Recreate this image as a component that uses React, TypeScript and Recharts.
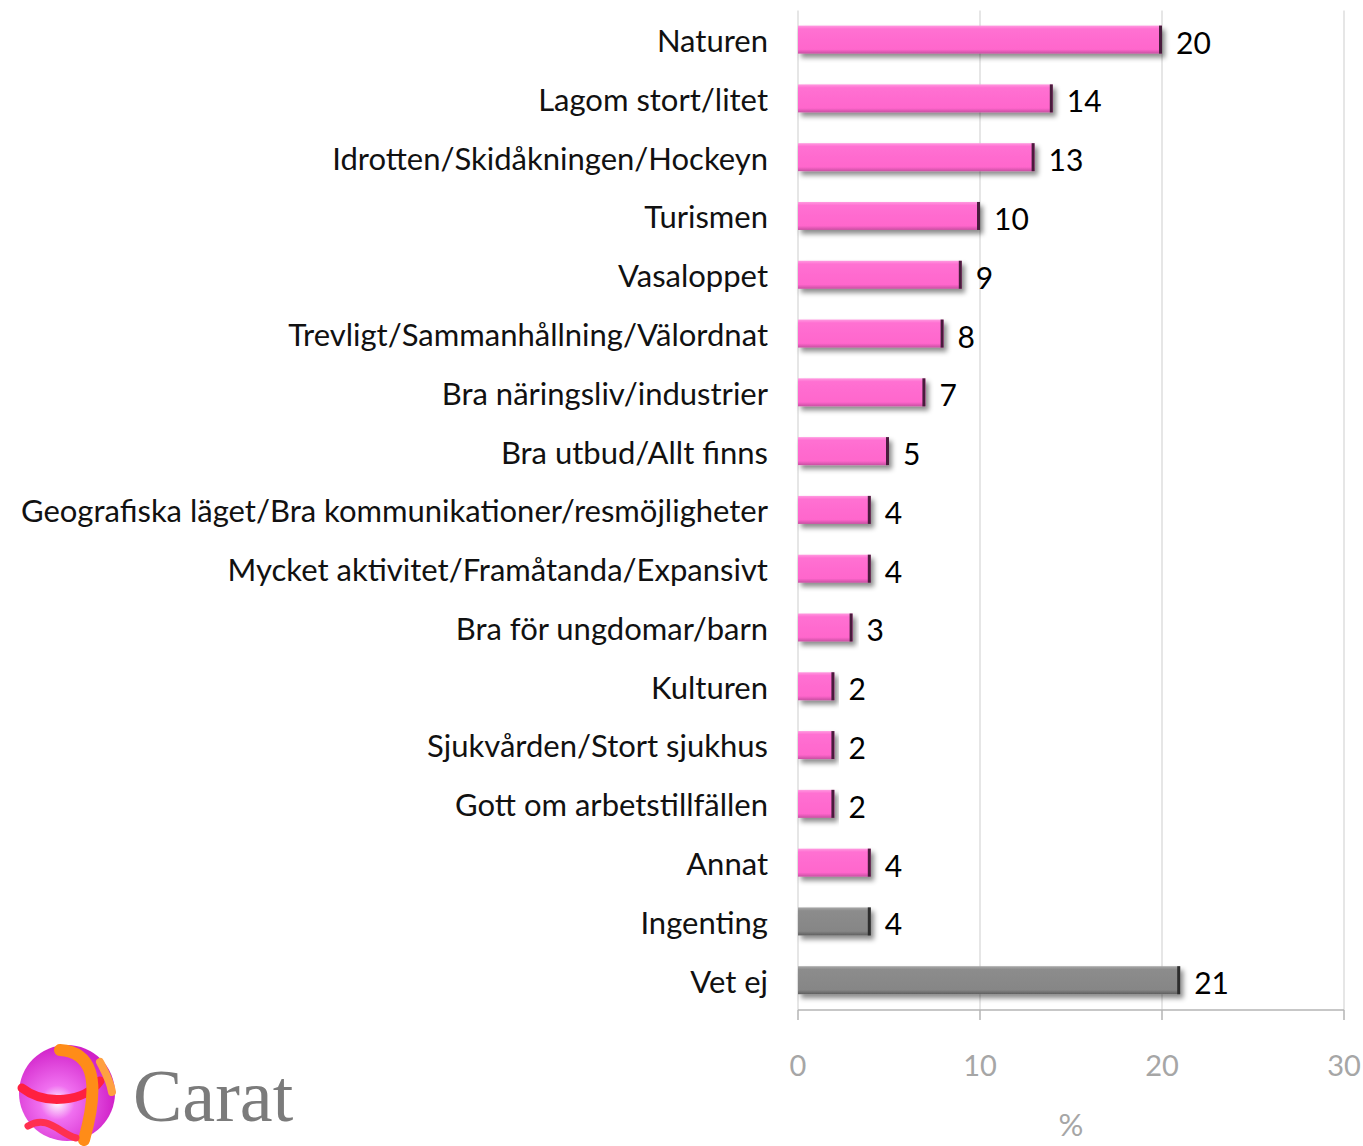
import { Bar, BarChart, CartesianGrid, Cell, LabelList, XAxis, YAxis } from 'recharts';

const categories = [
  'Naturen',
  'Lagom stort/litet',
  'Idrotten/Skidåkningen/Hockeyn',
  'Turismen',
  'Vasaloppet',
  'Trevligt/Sammanhållning/Välordnat',
  'Bra näringsliv/industrier',
  'Bra utbud/Allt finns',
  'Geografiska läget/Bra kommunikationer/resmöjligheter',
  'Mycket aktivitet/Framåtanda/Expansivt',
  'Bra för ungdomar/barn',
  'Kulturen',
  'Sjukvården/Stort sjukhus',
  'Gott om arbetstillfällen',
  'Annat',
  'Ingenting',
  'Vet ej',
];

const percent = [20, 14, 13, 10, 9, 8, 7, 5, 4, 4, 3, 2, 2, 2, 4, 4, 21];

// answers without content are drawn grey
const neutral = ['Ingenting', 'Vet ej'];

const xTicks = [0, 10, 20, 30];

const data = categories.map((name, i) => ({ name, value: percent[i], neutral: neutral.includes(name) }));

const font = 'Lato, "Open Sans", sans-serif';

function ShadedBar(props: any) {
  const { x, y, width, height, payload } = props;
  if (!width || width <= 0) return null;
  const grey = payload.neutral;
  return (
    <g filter="url(#barShadow)">
      <rect x={x} y={y} width={width} height={height} fill={grey ? 'url(#greyFill)' : 'url(#pinkFill)'} />
      <rect x={x + width - 3} y={y} width={3} height={height} fill={grey ? '#2e2e2e' : '#4a1f3c'} />
    </g>
  );
}

function CategoryTick(props: any) {
  const { x, y, payload } = props;
  return (
    <text x={x} y={y} textAnchor="end" dominantBaseline="central" fontFamily={font} fontSize={31} fill="#111">
      {payload.value}
    </text>
  );
}

function ValueLabel(props: any) {
  const { x, y, width, height, value } = props;
  return (
    <text x={x + width + 14} y={y + height / 2 + 2} dominantBaseline="central" fontFamily={font} fontSize={30} fill="#000">
      {value}
    </text>
  );
}

function Logo() {
  return (
    <svg width={320} height={110} style={{ position: 'absolute', left: 0, top: 1036 }}>
      <defs>
        <radialGradient id="ball" cx="40%" cy="60%" r="60%">
          <stop offset="0%" stopColor="#ffffff" />
          <stop offset="30%" stopColor="#f070f0" />
          <stop offset="100%" stopColor="#d020c8" />
        </radialGradient>
      </defs>
      <circle cx={67} cy={57} r={48} fill="url(#ball)" />
      <path d="M22 52 C45 70, 85 66, 100 45" stroke="#ff2040" strokeWidth={9} fill="none" strokeLinecap="round" />
      <path d="M60 14 C90 16, 102 40, 84 104" stroke="#ff8c18" strokeWidth={12} fill="none" strokeLinecap="round" />
      <path d="M100 26 C104 34, 110 44, 112 56" stroke="#ffa040" strokeWidth={8} fill="none" strokeLinecap="round" />
      <path d="M28 90 C48 78, 60 98, 76 102" stroke="#ff3050" strokeWidth={7} fill="none" strokeLinecap="round" />
      <text x={133} y={85} fontFamily='"Liberation Serif", serif' fontSize={74} fill="#7b7b7b">
        Carat
      </text>
    </svg>
  );
}

export default function App() {
  return (
    <div style={{ position: 'absolute', left: 0, top: 0, width: 1363, height: 1146, background: '#fff' }}>
      <BarChart
        width={1363}
        height={1146}
        data={data}
        layout="vertical"
        barSize={28}
        margin={{ top: 10.6, right: 19, bottom: 6, left: 0 }}
      >
        <defs>
          <linearGradient id="pinkFill" x1="0" y1="0" x2="0" y2="1">
            <stop offset="0%" stopColor="#ff9ae0" />
            <stop offset="12%" stopColor="#ff70d2" />
            <stop offset="85%" stopColor="#ff66cc" />
            <stop offset="100%" stopColor="#c84fa2" />
          </linearGradient>
          <linearGradient id="greyFill" x1="0" y1="0" x2="0" y2="1">
            <stop offset="0%" stopColor="#a8a8a8" />
            <stop offset="12%" stopColor="#8c8c8c" />
            <stop offset="85%" stopColor="#868686" />
            <stop offset="100%" stopColor="#5e5e5e" />
          </linearGradient>
          <filter id="barShadow" x="-5%" y="-30%" width="115%" height="180%">
            <feDropShadow dx={3} dy={4} stdDeviation={2.5} floodColor="#000" floodOpacity={0.45} />
          </filter>
        </defs>
        <CartesianGrid horizontal={false} stroke="#d9d9d9" strokeWidth={1.3} />
        <XAxis
          type="number"
          domain={[0, 30]}
          ticks={xTicks}
          height={130}
          tickSize={10}
          tickMargin={35}
          axisLine={{ stroke: '#b5b5b5', strokeWidth: 1.5 }}
          tickLine={{ stroke: '#b5b5b5', strokeWidth: 1.5 }}
          tick={{ fontFamily: font, fontSize: 29, fill: '#a6a6a6' }}
          label={{ value: '%', position: 'insideBottom', offset: 4, fontFamily: font, fontSize: 31, fill: '#a6a6a6' }}
        />
        <YAxis
          type="category"
          dataKey="name"
          width={798}
          interval={0}
          axisLine={false}
          tickLine={false}
          tickSize={0}
          tickMargin={30}
          tick={<CategoryTick />}
        />
        <Bar dataKey="value" shape={<ShadedBar />} isAnimationActive={false}>
          {data.map((d) => (
            <Cell key={d.name} fill={d.neutral ? '#888888' : '#ff6ccf'} />
          ))}
          <LabelList dataKey="value" content={<ValueLabel />} />
        </Bar>
      </BarChart>
      <Logo />
    </div>
  );
}
